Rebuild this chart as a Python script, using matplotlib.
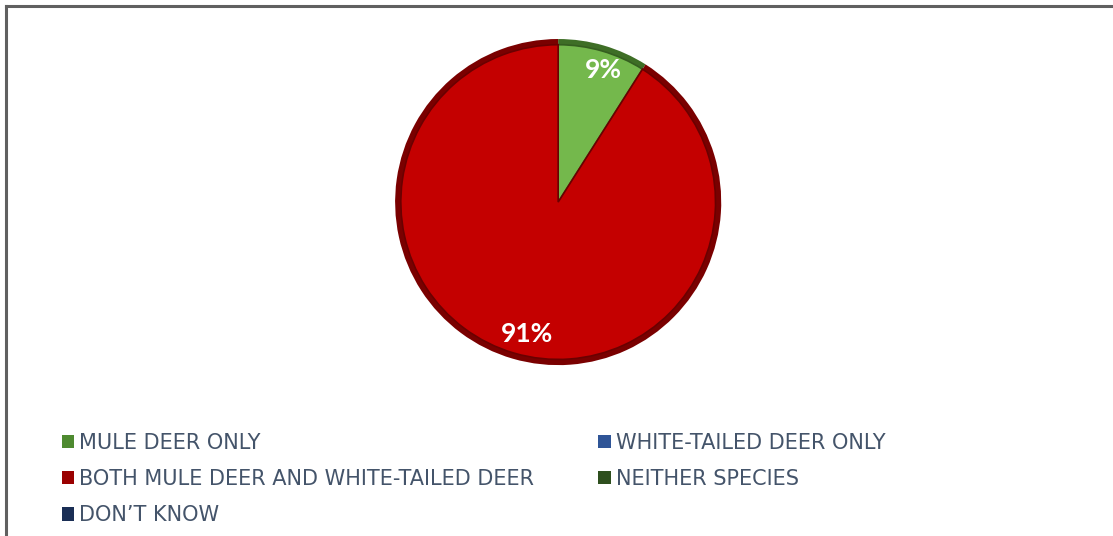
import matplotlib.pyplot as plt
from matplotlib.patches import Patch
from matplotlib.lines import Line2D

# survey answer shares (percent)
categories = ['MULE DEER ONLY', 'WHITE-TAILED DEER ONLY',
              'BOTH MULE DEER AND WHITE-TAILED DEER', 'NEITHER SPECIES', 'DON\u2019T KNOW']
shares = [9, 0, 91, 0, 0]

face_colors = ['#74B84C', '#2F5597', '#C40000', '#2E4F1E', '#1F3864']
rim_colors = ['#3E6E26', '#1F3864', '#7A0000', '#1E3513', '#101E38']
legend_colors = ['#4E8A30', '#2F5597', '#9A0000', '#2E4F1E', '#1A2E55']

fig = plt.figure(figsize=(11.13, 5.36), dpi=100)

# frame lines (top and left only are visible)
fig.add_artist(Line2D([0.005, 1.0], [0.988, 0.988], color='#606060', lw=2.2, transform=fig.transFigure))
fig.add_artist(Line2D([0.005, 0.005], [0.0, 0.988], color='#606060', lw=2.2, transform=fig.transFigure))

ax = fig.add_axes([0.355, 0.316, 0.293, 0.614])
ax.set_aspect('equal')

nz = [i for i, v in enumerate(shares) if v > 0]
vals = [shares[i] for i in nz]

# dark rim underneath for a bevelled look
ax.pie(vals, colors=[rim_colors[i] for i in nz], startangle=90, counterclock=False,
       radius=1.0, wedgeprops=dict(linewidth=0))
wedges, texts, autotexts = ax.pie(
    vals, colors=[face_colors[i] for i in nz], startangle=90, counterclock=False,
    radius=0.965, wedgeprops=dict(linewidth=1.2, edgecolor='#6A0000'),
    autopct=lambda p: f'{p:.0f}%', pctdistance=0.8,
    textprops=dict(color='white', fontsize=19, fontweight='bold', family='Lato'))
wedges[0].set_edgecolor('#355E20')
# position labels like the original
autotexts[0].set_position((0.28, 0.81))
autotexts[1].set_position((-0.19, -0.81))
ax.set_xlim(-1.0, 1.0)
ax.set_ylim(-1.0, 1.0)

order = [0, 2, 4, 1, 3]
handles = [Patch(facecolor=legend_colors[i], edgecolor='none') for i in order]
labels = [categories[i] for i in order]
fig.legend(handles, labels, ncol=2, loc='upper left', bbox_to_anchor=(0.048, 0.208),
           frameon=False, prop=dict(family='DejaVu Sans', size=15),
           labelcolor='#44546A', handlelength=0.6, handleheight=0.6,
           handletextpad=0.25, columnspacing=3.05, labelspacing=0.78, borderaxespad=0)

fig.savefig('out.png', dpi=100)
